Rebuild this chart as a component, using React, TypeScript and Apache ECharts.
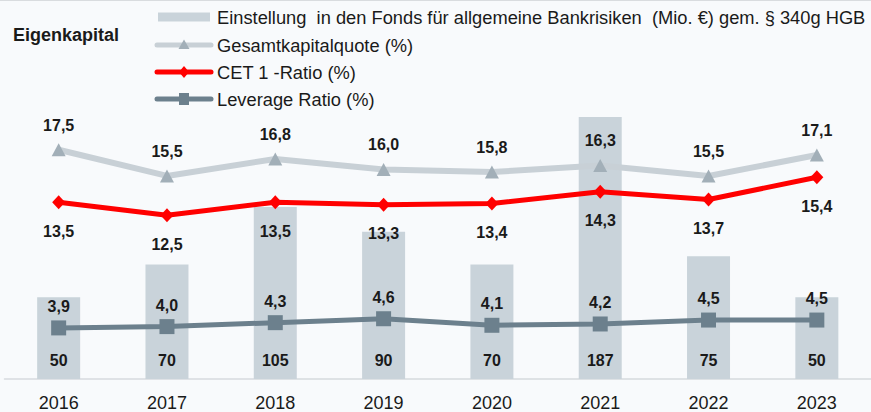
import React, { useEffect, useRef } from "react";
import * as echarts from "echarts";

const years = ["2016", "2017", "2018", "2019", "2020", "2021", "2022", "2023"];
const fondsValues = [50, 70, 105, 90, 70, 187, 75, 50];
const gesamtValues = [17.5, 15.5, 16.8, 16.0, 15.8, 16.3, 15.5, 17.1];
const cetValues = [13.5, 12.5, 13.5, 13.3, 13.4, 14.3, 13.7, 15.4];
const leverageValues = [3.9, 4.0, 4.3, 4.6, 4.1, 4.2, 4.5, 4.5];

const seriesNames = [
  "Einstellung  in den Fonds für allgemeine Bankrisiken  (Mio. €) gem. § 340g HGB",
  "Gesamtkapitalquote (%)",
  "CET 1 -Ratio (%)",
  "Leverage Ratio (%)",
];
const title = "Eigenkapital";

const FONT = "'Liberation Sans', Arial, Helvetica, sans-serif";
const BAR_COLOR = "#C9D3DA";
const GESAMT_LINE = "#C8D0D6";
const GESAMT_MARK = "#A2AFB8";
const CET_COLOR = "#FF0000";
const LEV_COLOR = "#6C808D";
const TEXT = "#1A1A1A";

const fmt = (v: number) => v.toFixed(1).replace(".", ",");

export default function App() {
  const ref = useRef<HTMLDivElement>(null);
  useEffect(() => {
    if (!ref.current) return;
    const chart = echarts.init(ref.current, null, { renderer: "svg" });

    const legendRowY = [17, 45, 72, 99];
    const ix0 = 157;
    const ix1 = 211;
    const icx = (ix0 + ix1) / 2;
    const legendGraphics: any[] = [];
    legendGraphics.push({
      type: "rect",
      shape: { x: ix0 + 1, y: legendRowY[0] - 4.5, width: ix1 - ix0 - 2, height: 9 },
      style: { fill: BAR_COLOR },
    });
    const lineColors = [GESAMT_LINE, CET_COLOR, LEV_COLOR];
    for (let i = 1; i < 4; i++) {
      const y = legendRowY[i];
      legendGraphics.push({
        type: "line",
        shape: { x1: ix0, y1: y, x2: ix1, y2: y },
        style: { stroke: lineColors[i - 1], lineWidth: 5, lineCap: "round" },
      });
    }
    legendGraphics.push({
      type: "polygon",
      shape: { points: [[icx, legendRowY[1] - 5.5], [icx + 5.5, legendRowY[1] + 4], [icx - 5.5, legendRowY[1] + 4]] },
      style: { fill: GESAMT_MARK },
    });
    legendGraphics.push({
      type: "polygon",
      shape: { points: [[icx, legendRowY[2] - 6], [icx + 5, legendRowY[2]], [icx, legendRowY[2] + 6], [icx - 5, legendRowY[2]]] },
      style: { fill: CET_COLOR },
    });
    legendGraphics.push({
      type: "rect",
      shape: { x: icx - 5, y: legendRowY[3] - 6, width: 10, height: 12 },
      style: { fill: LEV_COLOR },
    });
    seriesNames.forEach((n, i) => {
      legendGraphics.push({
        type: "text",
        x: 217,
        y: legendRowY[i],
        style: { text: n, fill: TEXT, font: `18.3px ${FONT}`, textVerticalAlign: "middle", textAlign: "left" },
      });
    });

    chart.setOption({
      animation: false,
      backgroundColor: "#F8FAFC",
      textStyle: { fontFamily: FONT },
      grid: { left: 4.5, top: 117, width: 872, height: 263, containLabel: false },
      xAxis: {
        type: "category",
        data: years,
        axisLine: { show: true, lineStyle: { color: "#D6DADE", width: 1.5 } },
        axisTick: { show: false },
        axisLabel: { color: TEXT, fontSize: 18, margin: 15, fontFamily: FONT },
      },
      yAxis: [
        { type: "value", min: 0, max: 160, show: false, splitLine: { show: false } },
        { type: "value", min: 0, max: 20, show: false, splitLine: { show: false } },
      ],
      graphic: [
        {
          type: "line",
          shape: { x1: 0, y1: 0.5, x2: 871, y2: 0.5 },
          style: { stroke: "#D9DCDF", lineWidth: 1 },
        },
        {
          type: "text",
          x: 13,
          y: 35,
          style: { text: title, fill: TEXT, font: `bold 18px ${FONT}`, textVerticalAlign: "middle" },
        },
        ...legendGraphics,
      ],
      series: [
        {
          name: seriesNames[0],
          type: "bar",
          yAxisIndex: 0,
          data: fondsValues,
          barWidth: 43,
          clip: true,
          itemStyle: { color: BAR_COLOR },
          label: {
            show: true,
            position: "insideBottom",
            distance: 11,
            color: TEXT,
            fontWeight: "bold",
            fontSize: 16,
            fontFamily: FONT,
          },
          z: 1,
        },
        {
          name: seriesNames[1],
          type: "line",
          yAxisIndex: 1,
          data: gesamtValues,
          symbol: "triangle",
          symbolSize: [14, 13],
          lineStyle: { color: GESAMT_LINE, width: 6 },
          itemStyle: { color: GESAMT_MARK },
          label: {
            show: true,
            position: "top",
            distance: 10,
            color: TEXT,
            fontWeight: "bold",
            fontSize: 16,
            fontFamily: FONT,
            formatter: (p: any) => fmt(p.value),
          },
          z: 3,
        },
        {
          name: seriesNames[2],
          type: "line",
          yAxisIndex: 1,
          data: cetValues,
          symbol: "diamond",
          symbolSize: [13, 14],
          lineStyle: { color: CET_COLOR, width: 5 },
          itemStyle: { color: CET_COLOR },
          label: {
            show: true,
            position: "bottom",
            distance: 14,
            color: TEXT,
            fontWeight: "bold",
            fontSize: 16,
            fontFamily: FONT,
            formatter: (p: any) => fmt(p.value),
          },
          z: 4,
        },
        {
          name: seriesNames[3],
          type: "line",
          yAxisIndex: 1,
          data: leverageValues,
          symbol: "rect",
          symbolSize: 15,
          lineStyle: { color: LEV_COLOR, width: 5 },
          itemStyle: { color: LEV_COLOR },
          label: {
            show: true,
            position: "top",
            distance: 6,
            color: TEXT,
            fontWeight: "bold",
            fontSize: 16,
            fontFamily: FONT,
            formatter: (p: any) => fmt(p.value),
          },
          z: 4,
        },
      ],
    });
    return () => chart.dispose();
  }, []);

  return (
    <div
      ref={ref}
      style={{ position: "fixed", left: 0, top: 0, width: 871, height: 412 }}
    />
  );
}
